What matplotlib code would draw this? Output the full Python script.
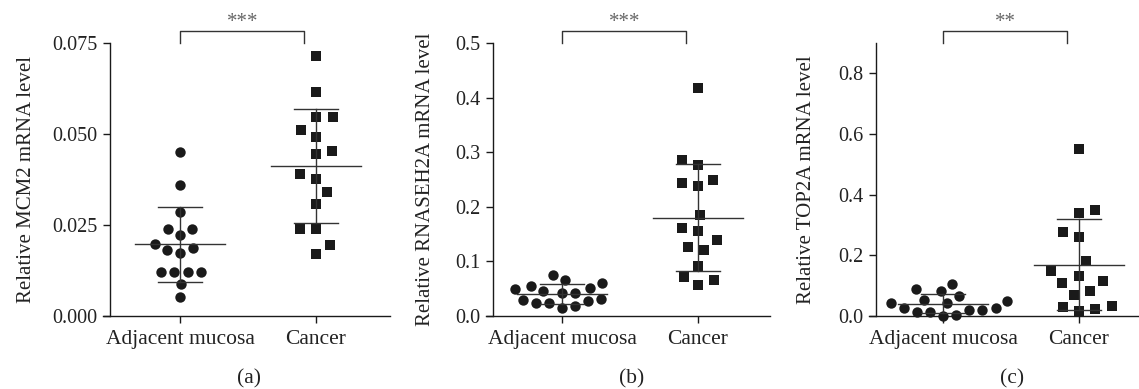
import numpy as np
import matplotlib
matplotlib.use("Agg")
import matplotlib.pyplot as plt
from matplotlib.transforms import blended_transform_factory

plt.rcParams['font.family'] = ['Liberation Serif', 'DejaVu Serif']

groups = ["Adjacent mucosa", "Cancer"]

# values
mcm2_adj = [0.045, 0.036, 0.0285, 0.024, 0.024, 0.0223, 0.0198, 0.0186,
            0.018, 0.0172, 0.012, 0.012, 0.012, 0.012, 0.0088, 0.0051]
mcm2_can = [0.0715, 0.0616, 0.0546, 0.0546, 0.0512, 0.0493, 0.0446, 0.0452,
            0.0391, 0.0376, 0.0342, 0.0308, 0.0239, 0.0239, 0.0195, 0.0171]

rnaseh2a_adj = [0.075, 0.061, 0.066, 0.055, 0.049, 0.052, 0.045, 0.042,
                0.043, 0.032, 0.0275, 0.023, 0.014, 0.018, 0.023, 0.029]
rnaseh2a_can = [0.4175, 0.286, 0.277, 0.249, 0.2445, 0.238, 0.185, 0.161,
                0.155, 0.139, 0.127, 0.12, 0.092, 0.072, 0.066, 0.056]

top2a_adj = [0.106, 0.081, 0.0885, 0.066, 0.053, 0.05, 0.042, 0.042,
             0.025, 0.02, 0.014, 0.003, 0.0, 0.014, 0.02, 0.025]
top2a_can = [0.551, 0.341, 0.35, 0.277, 0.261, 0.18, 0.147, 0.131,
             0.108, 0.114, 0.081, 0.07, 0.033, 0.029, 0.022, 0.018]

ylabels = ["Relative MCM2 mRNA level", "Relative RNASEH2A mRNA level",
           "Relative TOP2A mRNA level"]
yticks = [[0.0, 0.025, 0.05, 0.075], [0.0, 0.1, 0.2, 0.3, 0.4, 0.5],
          [0.0, 0.2, 0.4, 0.6, 0.8]]
ytick_fmt = ["{:.3f}", "{:.1f}", "{:.1f}"]
ytops = [0.075, 0.5, 0.9]
stars = ["***", "***", "**"]
panel_tags = ["(a)", "(b)", "(c)"]

W, H = 1139, 389
# pixel layout: axes left/right, y spine, first tick
layout = [(103, 390, 110, 180), (486, 770, 493, 562), (869, 1139, 876, 943)]
unit_px = 136.0
top_px, bot_px = 43, 316
label_x = [-0.235, -0.18, -0.197]

ink = "#1a1a1a"
line_c = "#333333"


def swarm(ax, vals, diam):
    # beeswarm in pixel space, lowest values first
    p0 = ax.transData.transform((0, 0))
    p1 = ax.transData.transform((1, 1))
    sx, sy = p1[0] - p0[0], p1[1] - p0[1]
    vals = np.asarray(vals)
    offs = np.zeros(len(vals))
    placed = []
    side = 1
    for i in np.argsort(vals, kind='stable'):
        y = vals[i] * sy
        cands = [0.0]
        for px, py in placed:
            dy = abs(y - py)
            if dy < diam:
                dx = np.sqrt(diam ** 2 - dy ** 2)
                cands += [px + dx, px - dx]
        ok = [c for c in cands
              if all((c - px) ** 2 + (y - py) ** 2 >= diam ** 2 - 1e-6 for px, py in placed)]
        best = min(abs(c) for c in ok)
        same = [c for c in ok if abs(abs(c) - best) < 1e-6]
        pos = max(same) if side > 0 else min(same)
        if pos != 0:
            side = -side
        placed.append((pos, y))
        offs[i] = pos / sx
    return offs


fig = plt.figure(figsize=(W / 100, H / 100), dpi=100)
data = [(mcm2_adj, mcm2_can), (rnaseh2a_adj, rnaseh2a_can), (top2a_adj, top2a_can)]

for k in range(3):
    left, right, spine, tick0 = layout[k]
    ax = fig.add_axes([left / W, 1 - bot_px / H, (right - left) / W, (bot_px - top_px) / H])
    ax.set_xlim((left - tick0) / unit_px, (right - tick0) / unit_px)
    ax.set_ylim(0, ytops[k])
    ax.spines['left'].set_position(('data', (spine - tick0) / unit_px))
    ax.spines['top'].set_visible(False)
    ax.spines['right'].set_visible(False)
    for s in ['left', 'bottom']:
        ax.spines[s].set_linewidth(1.0)
        ax.spines[s].set_color(ink)
    ax.tick_params(direction='out', length=5, width=1.0, color=ink,
                   labelsize=14.5, labelcolor="#222222", pad=4)
    ax.tick_params(axis='x', pad=5)
    ax.set_xticks([0, 1])
    ax.set_xticklabels(groups, fontsize=15.5)
    ax.set_yticks(yticks[k])
    ax.set_yticklabels([ytick_fmt[k].format(t) for t in yticks[k]])
    ax.set_ylabel(ylabels[k], fontsize=15, color="#222222")
    ax.yaxis.set_label_coords(label_x[k], 0.5)

    for g, (vals, mk, sz, d) in enumerate([(data[k][0], 'o', 56, 13.5),
                                           (data[k][1], 's', 60, 16.5)]):
        vals = np.asarray(vals)
        xs = g + swarm(ax, vals, d)
        ax.scatter(xs, vals, marker=mk, s=sz, color=ink, linewidths=0,
                   zorder=3, clip_on=False)
        m = vals.mean()
        sd = vals.std(ddof=1)
        ax.plot([g - 0.33, g + 0.33], [m, m], color=line_c, lw=1.0, zorder=4)
        ax.plot([g, g], [m - sd, m + sd], color=line_c, lw=1.0, zorder=4)
        for yy in (m - sd, m + sd):
            ax.plot([g - 0.16, g + 0.16], [yy, yy], color=line_c, lw=1.0, zorder=4)

    # significance bracket
    tr = blended_transform_factory(ax.transData, ax.transAxes)
    hb = (bot_px - top_px)
    y_hi = 1 + (top_px - 30.5) / hb
    y_lo = 1 + (top_px - 42.5) / hb
    ax.plot([0, 0, 0.915, 0.915], [y_lo, y_hi, y_hi, y_lo], color=line_c,
            lw=1.0, transform=tr, clip_on=False)
    ax.text(0.46, 1 + (top_px - 32) / hb, stars[k], transform=tr, ha='center',
            va='bottom', fontsize=15, color="#666666")

    cx = (tick0 + tick0 + unit_px) / 2 / W + 0.001
    fig.text(cx, 0.014, panel_tags[k], ha='center', va='baseline',
             fontsize=15.5, color="#222222")

fig.savefig("out.png", dpi=100)
